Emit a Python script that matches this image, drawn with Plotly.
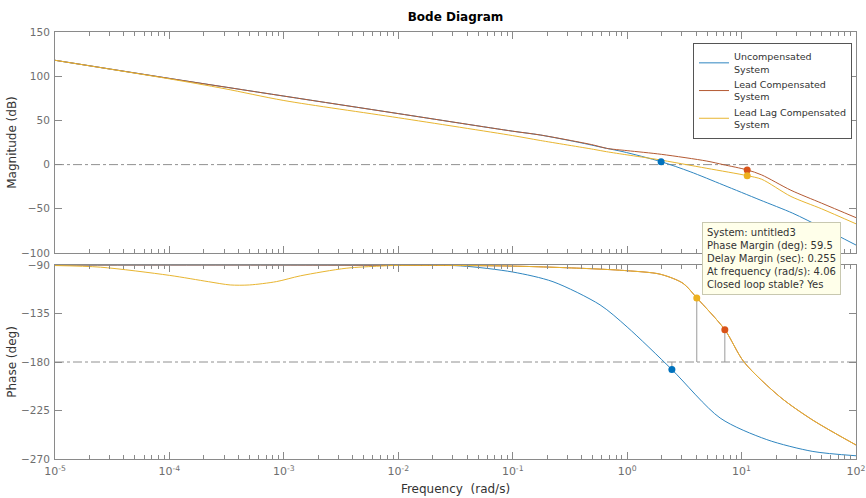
import plotly.graph_objects as go

# ---------------- data ----------------
# Magnitude (dB)
w_mag_unc = [1e-5, 1e-4, 1e-3, 1e-2, 0.1, 0.174, 0.4, 0.66, 0.92, 1.98, 3.55, 6.9, 14.5, 28, 50, 100]
mag_unc = [118, 97.5, 77.5, 57.7, 37.8, 33.5, 24.5, 18.4, 14.6, 3.3, -8, -23, -40, -55, -71, -91]

w_mag_lead = [1e-5, 1e-4, 1e-3, 1e-2, 0.1, 0.174, 0.507, 0.66, 1.0, 2.0, 4.97, 6.9, 11.2, 15, 27, 50, 100]
mag_lead = [118, 97.5, 77.5, 57.7, 37.8, 33.5, 22.2, 18.4, 15.8, 11.6, 4, 0, -6, -11.7, -29, -43.6, -60]

w_mag_leadlag = [1e-5, 1e-4, 3e-4, 1e-3, 1e-2, 0.1, 0.174, 0.507, 0.66, 1.0, 1.8, 4.97, 11.2, 15, 27, 50, 100]
mag_leadlag = [118, 97, 86, 72.5, 53, 32.8, 27.3, 17.3, 14.6, 11, 6, -4.2, -12.5, -16.6, -36, -50, -67]

# Phase (deg)
w_ph_unc = [1e-5, 1e-3, 1e-2, 0.035, 0.1, 0.225, 0.58, 1.0, 2.46, 6.5, 16.6, 42, 100]
ph_unc = [-90, -90, -90.2, -90.8, -96.5, -105.5, -127, -147.5, -187, -232, -252, -263, -267]

w_ph_lead = [1e-5, 1e-3, 1e-2, 0.1, 0.5, 1.0, 1.94, 3.08, 4.06, 7.14, 10.5, 21.8, 42, 100]
ph_lead = [-90, -90, -90.3, -91, -93.5, -95.3, -98.5, -107, -120.5, -150, -180, -212.6, -234, -257]

w_ph_leadlag = [1e-5, 2.5e-5, 1e-4, 2.2e-4, 3.4e-4, 5e-4, 8.6e-4, 1.4e-3, 3.5e-3, 6.9e-3, 1.04e-2,
                0.1, 0.5, 1.0, 1.94, 3.08, 4.06, 7.14, 10.5, 21.8, 42, 100]
ph_leadlag = [-90.5, -92, -99.6, -105.5, -108.5, -108.5, -105.4, -100, -93, -91, -90.3,
              -91, -93.5, -95.3, -98.5, -107, -120.5, -150, -180, -212.6, -234, -257]

# Stability margin markers
gm_w = [1.98, 11.2, 11.2]          # magnitude markers (unc, lead, leadlag)
gm_db = [3.3, -6, -12.5]
pm_w = [2.46, 7.14, 4.06]          # phase markers (unc, lead, leadlag)
pm_deg = [-187, -150, -120.5]

names = ["Uncompensated<br>System", "Lead Compensated<br>System", "Lead Lag Compensated<br>System"]
line_colors = ["#2f86c0", "#b45a33", "#e8b530"]
dot_colors = ["#0072BD", "#D95319", "#EDB120"]

decade_vals = [1e-5, 1e-4, 1e-3, 1e-2, 1e-1, 1, 10, 100]
decade_text = ["10<sup>-5</sup>", "10<sup>-4</sup>", "10<sup>-3</sup>", "10<sup>-2</sup>",
               "10<sup>-1</sup>", "10<sup>0</sup>", "10<sup>1</sup>", "10<sup>2</sup>"]
mag_ticks = [-100, -50, 0, 50, 100, 150]
ph_ticks = [-270, -225, -180, -135, -90]

tip_lines = ["System: untitled3", "Phase Margin (deg): 59.5", "Delay Margin (sec): 0.255",
             "At frequency (rad/s): 4.06", "Closed loop stable? Yes"]

# ---------------- figure ----------------
FONT = "DejaVu Sans"
AX = "#8a8a8a"
TICKC = "#6e6e6e"

fig = go.Figure()

mags = [(w_mag_unc, mag_unc), (w_mag_lead, mag_lead), (w_mag_leadlag, mag_leadlag)]
phs = [(w_ph_unc, ph_unc), (w_ph_lead, ph_lead), (w_ph_leadlag, ph_leadlag)]

for i in range(3):
    fig.add_trace(go.Scatter(x=mags[i][0], y=mags[i][1], mode="lines", name=names[i],
                             line=dict(color=line_colors[i], width=1, shape="spline", smoothing=0.8),
                             xaxis="x", yaxis="y", legendgroup=str(i), showlegend=True))
for i in range(3):
    fig.add_trace(go.Scatter(x=phs[i][0], y=phs[i][1], mode="lines", name=names[i],
                             line=dict(color=line_colors[i], width=1, shape="spline", smoothing=0.8),
                             xaxis="x2", yaxis="y2", legendgroup=str(i), showlegend=False))

# vertical margin lines in phase plot
for i in range(3):
    fig.add_trace(go.Scatter(x=[pm_w[i], pm_w[i]], y=[pm_deg[i], -180], mode="lines",
                             line=dict(color="#9a9a9a", width=1), xaxis="x2", yaxis="y2",
                             showlegend=False, hoverinfo="skip"))

# markers
for i in range(3):
    fig.add_trace(go.Scatter(x=[gm_w[i]], y=[gm_db[i]], mode="markers",
                             marker=dict(color=dot_colors[i], size=7),
                             xaxis="x", yaxis="y", showlegend=False))
    fig.add_trace(go.Scatter(x=[pm_w[i]], y=[pm_deg[i]], mode="markers",
                             marker=dict(color=dot_colors[i], size=7),
                             xaxis="x2", yaxis="y2", showlegend=False))

# reference lines 0 dB and -180 deg
fig.add_shape(type="line", xref="x domain", yref="y", x0=0, x1=1, y0=0, y1=0,
              line=dict(color="#909090", width=1, dash="dashdot"), layer="below")
fig.add_shape(type="line", xref="x2 domain", yref="y2", x0=0, x1=1, y0=-180, y1=-180,
              line=dict(color="#909090", width=1, dash="dashdot"), layer="below")

xcommon = dict(type="log", range=[-5, 2], tickvals=decade_vals, ticktext=decade_text,
               ticks="inside", ticklen=7, tickcolor=AX, showline=True, linecolor=AX, linewidth=1,
               mirror="allticks", showgrid=False, zeroline=False, automargin=False,
               ticklabelstandoff=2,
               minor=dict(ticks="inside", ticklen=4, tickcolor=AX, dtick="D1", showgrid=False),
               tickfont=dict(family=FONT, size=11, color=TICKC))
ycommon = dict(ticks="inside", ticklen=7, tickcolor=AX, showline=True, linecolor=AX, linewidth=1,
               mirror="allticks", showgrid=False, zeroline=False, automargin=False,
               ticklabelstandoff=2,
               tickfont=dict(family=FONT, size=10.5, color=TICKC))

fig.update_layout(
    width=866, height=498,
    margin=dict(l=55, r=10, t=32, b=39, autoexpand=False),
    paper_bgcolor="white", plot_bgcolor="white",
    font=dict(family=FONT, size=11, color="#333333"),
    title=dict(text="<b>Bode Diagram</b>", x=0.5, xref="paper", y=1 - 17 / 498, yanchor="middle",
               yref="container", automargin=False,
               font=dict(family=FONT, size=12, color="#000000")),
    xaxis=dict(**xcommon, domain=[0, 1], anchor="y", showticklabels=False, matches="x2"),
    xaxis2=dict(**xcommon, domain=[0, 1], anchor="y2", showticklabels=True,
                title=dict(text="Frequency  (rad/s)", standoff=7,
                           font=dict(family=FONT, size=12, color="#333333"))),
    yaxis=dict(**ycommon, domain=[0.4824, 1], range=[-100, 150], tickvals=mag_ticks,
               title=dict(text="Magnitude (dB)", standoff=1,
                          font=dict(family=FONT, size=12, color="#333333"))),
    yaxis2=dict(**ycommon, domain=[0, 0.4543], range=[-270, -90], tickvals=ph_ticks,
                title=dict(text="Phase (deg)", standoff=1,
                           font=dict(family=FONT, size=12, color="#333333"))),
    legend=dict(x=(693 - 55) / 801, y=(459 - 43) / 427, xanchor="left", yanchor="top",
                bgcolor="white", bordercolor="#555555", borderwidth=1,
                font=dict(family=FONT, size=9.5, color="#333333"),
                tracegroupgap=0, itemwidth=30),
    showlegend=True,
)

fig.add_annotation(xref="paper", yref="paper", x=(702 - 55) / 801, y=(459 - 222) / 427,
                   xanchor="left", yanchor="top", align="left", showarrow=False,
                   text="<br>".join(tip_lines),
                   font=dict(family=FONT, size=10, color="#333333"),
                   bgcolor="#ffffea", bordercolor="#c8c8b0", borderwidth=1, borderpad=4)

fig.write_html("out.html", config={"displayModeBar": False},
               post_script="document.body.style.margin='0px';")
